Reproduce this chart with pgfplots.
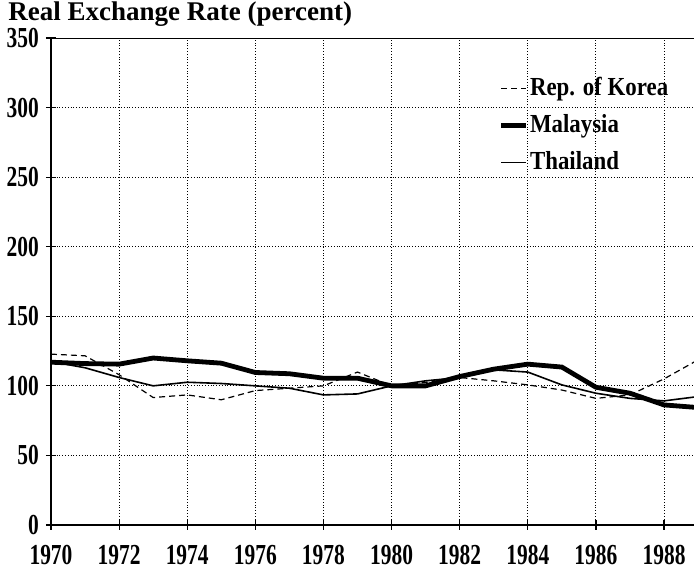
\documentclass[border=0pt]{standalone}
\usepackage{fontspec}
\setmainfont{Liberation Serif}
\newfontfamily\condfont[FakeStretch=0.74]{Liberation Serif}
\newfontfamily\legfont[FakeStretch=0.88]{Liberation Serif}
\usepackage{pgfplots}
\pgfplotsset{compat=1.18}

% Real exchange rate, 1980 = 100
\pgfplotstableread{
year korea malaysia thailand
1970 122.8 117.0 117.5
1971 121.6 116.0 113.0
1972 108.0 115.6 106.0
1973 91.6  120.0 100.0
1974 93.5  118.0 102.6
1975 90.0  116.3 101.7
1976 96.6  109.6 100.0
1977 98.3  108.7 98.3
1978 100.0 105.5 93.5
1979 109.9 105.5 94.2
1980 100.0 100.0 100.0
1981 102.5 100.0 103.6
1982 106.0 106.7 106.0
1983 103.6 112.0 111.5
1984 100.7 115.6 109.9
1985 97.0  113.5 100.7
1986 91.0  99.0  94.7
1987 93.5  94.7  91.0
1988 105.0 86.3  89.2
1989 118.7 84.4  92.3
}\rer

\begin{document}
\begin{tikzpicture}
\begin{axis}[
    scale only axis,
    width=321.5pt, height=243.5pt,
    xmin=1970, xmax=1988.88,
    ymin=0, ymax=350,
    xtick={1970,1972,...,1988},
    ytick={0,50,...,350},
    axis x line*=bottom,
    axis y line*=left,
    axis line style={line width=0.8pt},
    x axis line style={-}, y axis line style={-},
    tick align=center,
    major tick length=5pt,
    tick style={black, line width=0.6pt},
    grid=major,
    grid style={black, densely dotted, line width=0.5pt},
    /pgf/number format/assume math mode=true,
    /pgf/number format/1000 sep={},
    tick label style={font=\fontsize{14.5}{16}\condfont\bfseries},
    xticklabel style={yshift=-4pt},
    yticklabel style={inner ysep=0pt},
    legend style={at={(rel axis cs:0.6956,0.928)}, anchor=north west,
        draw=none, fill=none, font=\fontsize{13}{15}\legfont\bfseries,
        row sep=4pt, inner sep=0pt, nodes={inner xsep=0.8pt}},
    legend cell align=left,
    legend image code/.code={\draw[#1] (0pt,0pt) -- (12.5pt,0pt);},
]
\addplot[black, line width=0.6pt, dash pattern=on 3pt off 2pt] table[x=year, y=korea] {\rer};
\addplot[black, line width=2.4pt] table[x=year, y=malaysia] {\rer};
\addplot[black, line width=0.8pt] table[x=year, y=thailand] {\rer};
\legend{Rep. of Korea, Malaysia, Thailand}
\coordinate (bl) at (rel axis cs:0,0);
\coordinate (tl) at (rel axis cs:0,1);
\coordinate (tr) at (rel axis cs:1,1);
\end{axis}
\draw[black, line width=0.5pt] (tl) -- (tr);
\node[anchor=base west, inner sep=0pt, font=\fontsize{13.5}{15}\selectfont\bfseries]
    at ([xshift=-21.5pt, yshift=9pt]tl) {Real Exchange Rate (percent)};
\pgfresetboundingbox
\path[use as bounding box] ([xshift=-25.5pt, yshift=-22pt]bl) rectangle ([yshift=19pt]tr);
\end{tikzpicture}
\end{document}
